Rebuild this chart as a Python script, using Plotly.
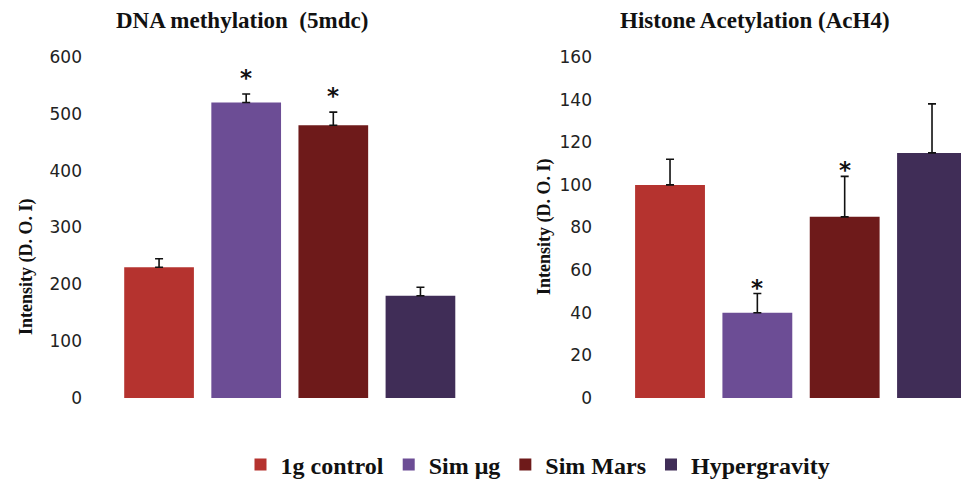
import plotly.graph_objects as go

W, H = 961, 481

groups = ["1g control", "Sim μg", "Sim Mars", "Hypergravity"]
colors = ["#B5332F", "#6C4D95", "#6E1A1A", "#402D57"]

dna_values = [230, 520, 480, 180]
dna_errors = [15, 15, 23, 15]
dna_signif = [False, True, True, False]

ach4_values = [100, 40, 85, 115]
ach4_errors = [12, 9, 19, 23]
ach4_signif = [False, True, True, False]

titles = ["DNA methylation\u00a0\u00a0(5mdc)", "Histone Acetylation (AcH4)"]
y_title = "Intensity (D. O. I)"
dna_ticks = [0, 100, 200, 300, 400, 500, 600]
ach4_ticks = [0, 20, 40, 60, 80, 100, 120, 140, 160]

def px_x(p):
    return p / W

def px_y(p):
    return 1 - p / H

fig = go.Figure()

x_idx = list(range(len(groups)))
for i, g in enumerate(groups):
    fig.add_trace(go.Bar(
        x=[x_idx[i]], y=[dna_values[i]], name="<b>%s</b>" % g, legendgroup=g,
        marker=dict(color=colors[i], line=dict(width=0)),
        error_y=dict(type="data", array=[dna_errors[i]], arrayminus=[0],
                     color="#111111", thickness=1.6, width=4),
        xaxis="x", yaxis="y", showlegend=True, width=0.8,
    ))
    fig.add_trace(go.Bar(
        x=[x_idx[i]], y=[ach4_values[i]], name="<b>%s</b>" % g, legendgroup=g,
        marker=dict(color=colors[i], line=dict(width=0)),
        error_y=dict(type="data", array=[ach4_errors[i]], arrayminus=[0],
                     color="#111111", thickness=1.6, width=4),
        xaxis="x2", yaxis="y2", showlegend=False, width=0.8,
    ))

star_font = dict(family="DejaVu Sans", size=23, color="#111")
annotations = []
for i in x_idx:
    if dna_signif[i]:
        annotations.append(dict(x=i, y=dna_values[i] + dna_errors[i], xref="x", yref="y",
                                text="<b>*</b>", showarrow=False, yanchor="middle", yshift=16,
                                font=star_font))
    if ach4_signif[i]:
        annotations.append(dict(x=i, y=ach4_values[i] + ach4_errors[i], xref="x2", yref="y2",
                                text="<b>*</b>", showarrow=False, yanchor="middle", yshift=6,
                                font=star_font))

title_font = dict(family="Liberation Serif", size=23, color="#111")
annotations.append(dict(x=px_x(242), y=px_y(21), xref="paper", yref="paper", text="<b>%s</b>" % titles[0],
                        showarrow=False, xanchor="center", yanchor="middle", font=title_font))
annotations.append(dict(x=px_x(755), y=px_y(21), xref="paper", yref="paper", text="<b>%s</b>" % titles[1],
                        showarrow=False, xanchor="center", yanchor="middle", font=title_font))
yt_font = dict(family="Liberation Serif", size=18, color="#111")
annotations.append(dict(x=px_x(26), y=px_y(267), xref="paper", yref="paper", text="<b>%s</b>" % y_title,
                        showarrow=False, textangle=-90, xanchor="center", yanchor="middle", font=yt_font))
annotations.append(dict(x=px_x(544), y=px_y(227), xref="paper", yref="paper", text="<b>%s</b>" % y_title,
                        showarrow=False, textangle=-90, xanchor="center", yanchor="middle", font=yt_font))

tick_font = dict(family="DejaVu Sans", size=17, color="#222")
ydom = [px_y(398), px_y(57)]

fig.update_layout(
    width=W, height=H,
    margin=dict(l=0, r=0, t=0, b=0, autoexpand=False),
    paper_bgcolor="white", plot_bgcolor="white",
    barmode="overlay",
    xaxis=dict(domain=[px_x(83), px_x(464)], range=[-0.873, 3.5], showticklabels=False,
               showgrid=False, zeroline=False, showline=False, ticks="", automargin=False),
    yaxis=dict(domain=ydom, range=[0, 600], tickvals=dna_ticks, showgrid=False, zeroline=False,
               showline=False, ticks="", tickfont=tick_font, anchor="x", automargin=False),
    xaxis2=dict(domain=[px_x(593), 1.0], range=[-0.882, 3.332], showticklabels=False,
                showgrid=False, zeroline=False, showline=False, ticks="", anchor="y2", automargin=False),
    yaxis2=dict(domain=ydom, range=[0, 160], tickvals=ach4_ticks, showgrid=False, zeroline=False,
                showline=False, ticks="", tickfont=tick_font, anchor="x2", automargin=False),
    showlegend=True,
    legend=dict(orientation="h", x=px_x(538), xanchor="center", y=px_y(465), yanchor="middle",
                font=dict(family="Liberation Serif", size=24, color="#111"),
                traceorder="normal", bgcolor="rgba(0,0,0,0)"),
    annotations=annotations,
)

fig.write_html("out.html",
               post_script="document.body.style.margin='0';document.body.style.overflow='hidden';")
